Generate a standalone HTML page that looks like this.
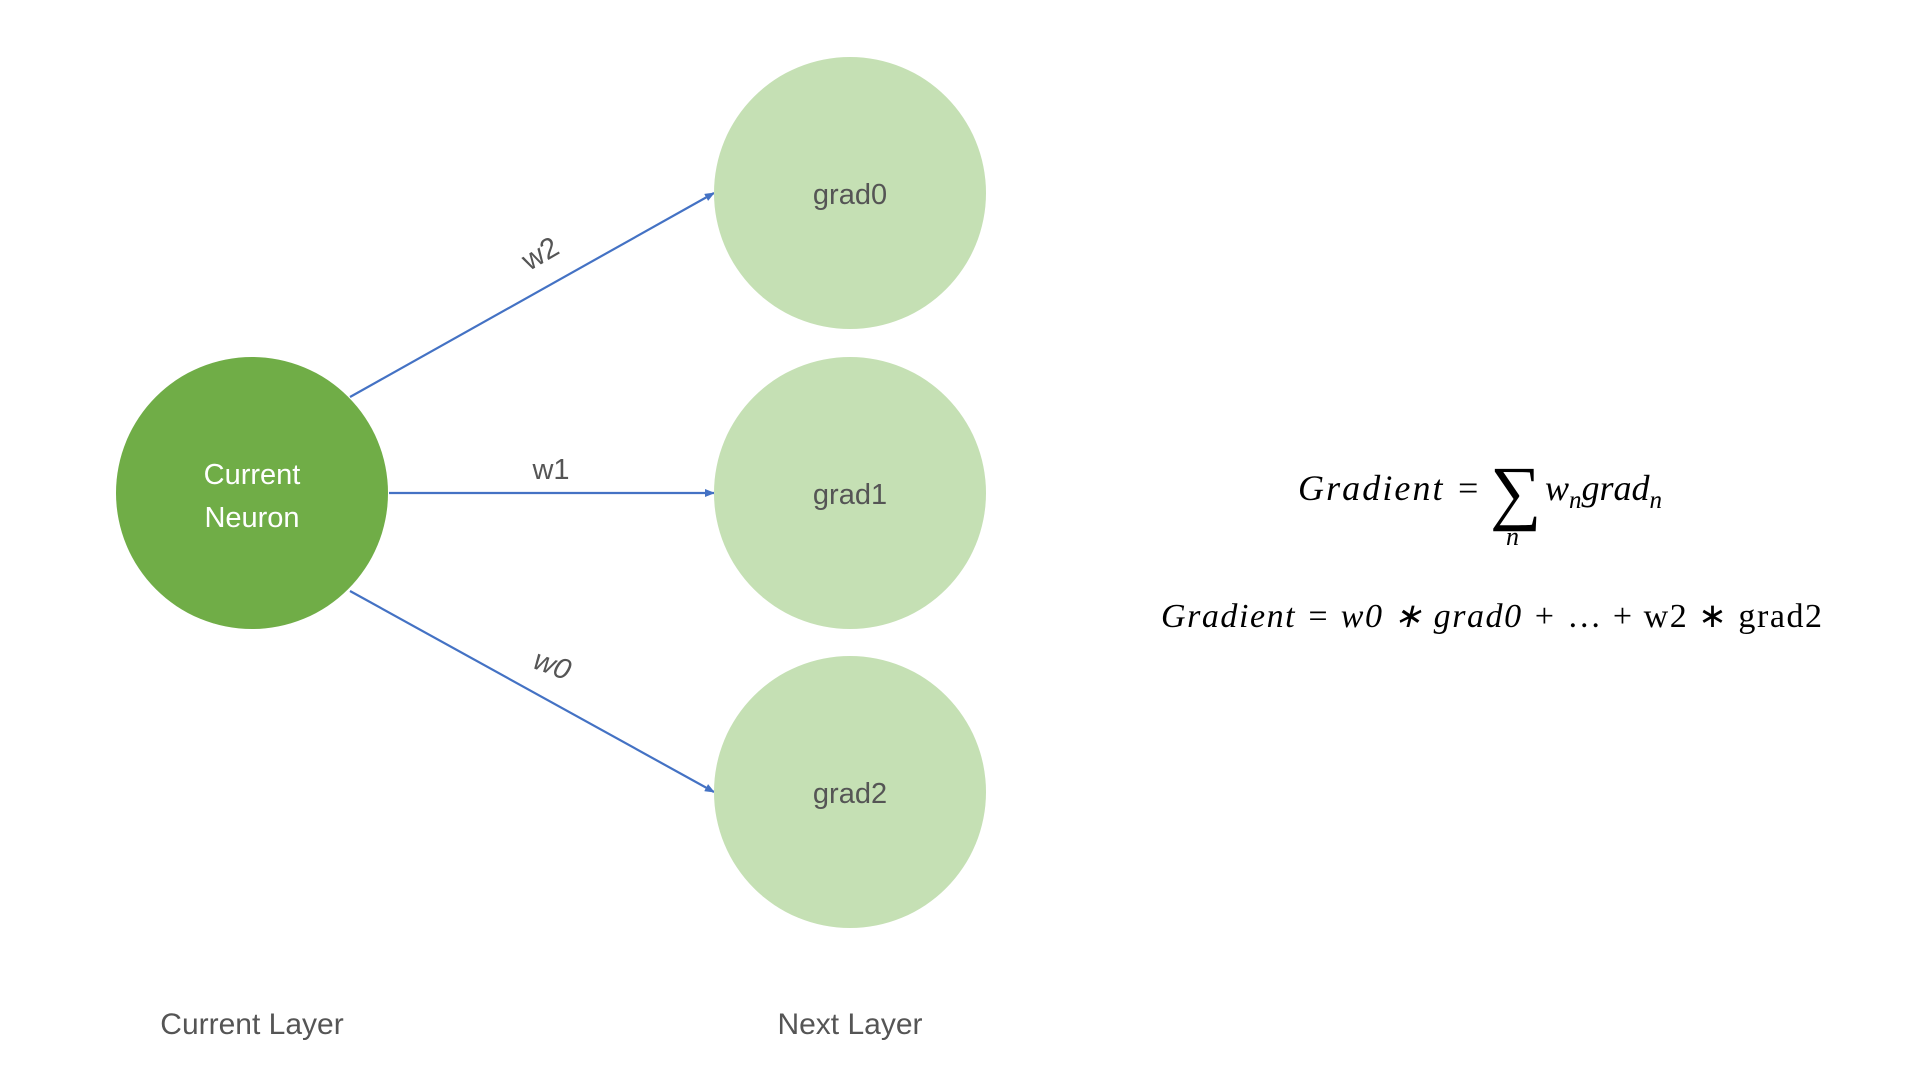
<!DOCTYPE html>
<html><head><meta charset="utf-8"><style>
html,body{margin:0;padding:0;background:#fff;}
svg{display:block;}
.lbl{font-family:"Liberation Sans",sans-serif;fill:#555;}
.m{font-family:"Liberation Serif",serif;fill:#000;}
</style></head><body>
<svg width="1920" height="1080" viewBox="0 0 1920 1080">
<defs><marker id="ah" markerWidth="10" markerHeight="8" refX="9" refY="4" orient="auto" markerUnits="userSpaceOnUse"><path d="M0,0 L10,4 L0,8 z" fill="#4472c4"/></marker></defs>
<line x1="350" y1="397" x2="714" y2="193" stroke="#4472c4" stroke-width="2.2" marker-end="url(#ah)"/>
<line x1="389" y1="493" x2="714" y2="493" stroke="#4472c4" stroke-width="2.2" marker-end="url(#ah)"/>
<line x1="350" y1="591" x2="714" y2="792" stroke="#4472c4" stroke-width="2.2" marker-end="url(#ah)"/>
<circle cx="252" cy="493" r="136" fill="#70ad47"/>
<text class="lbl" x="252" y="484" text-anchor="middle" font-size="29" style="fill:#fff">Current</text>
<text class="lbl" x="252" y="527" text-anchor="middle" font-size="29" style="fill:#fff">Neuron</text>
<circle cx="850" cy="193" r="136" fill="#c5e0b4"/>
<circle cx="850" cy="493" r="136" fill="#c5e0b4"/>
<circle cx="850" cy="792" r="136" fill="#c5e0b4"/>
<text class="lbl" x="850" y="204" text-anchor="middle" font-size="29">grad0</text>
<text class="lbl" x="850" y="504" text-anchor="middle" font-size="29">grad1</text>
<text class="lbl" x="850" y="803" text-anchor="middle" font-size="29">grad2</text>
<text class="lbl" font-size="29" text-anchor="middle" transform="translate(545,262) rotate(-30)">w2</text>
<text class="lbl" x="551" y="479" font-size="29" text-anchor="middle">w1</text>
<text class="lbl" font-size="29" text-anchor="middle" font-style="italic" transform="translate(549,674) rotate(20)">w0</text>
<text class="lbl" x="252" y="1034" text-anchor="middle" font-size="30">Current Layer</text>
<text class="lbl" x="850" y="1034" text-anchor="middle" font-size="30">Next Layer</text>
<g>
<text class="m" x="1298" y="500" font-size="36" font-style="italic" textLength="182">Gradient =</text>
<text class="m" x="1490" y="516" font-size="72">∑</text>
<text class="m" x="1506" y="545" font-size="26" font-style="italic">n</text>
<text class="m" x="1545" y="500" font-size="36" font-style="italic">w<tspan font-size="25" dy="8">n</tspan><tspan dy="-8">grad</tspan><tspan font-size="25" dy="8">n</tspan></text>
</g>
<text class="m" x="1161" y="627" font-size="34" textLength="661"><tspan font-style="italic">Gradient = w0 ∗ grad0 + </tspan> … + w2 ∗ grad2</text>
</svg>
</body></html>
